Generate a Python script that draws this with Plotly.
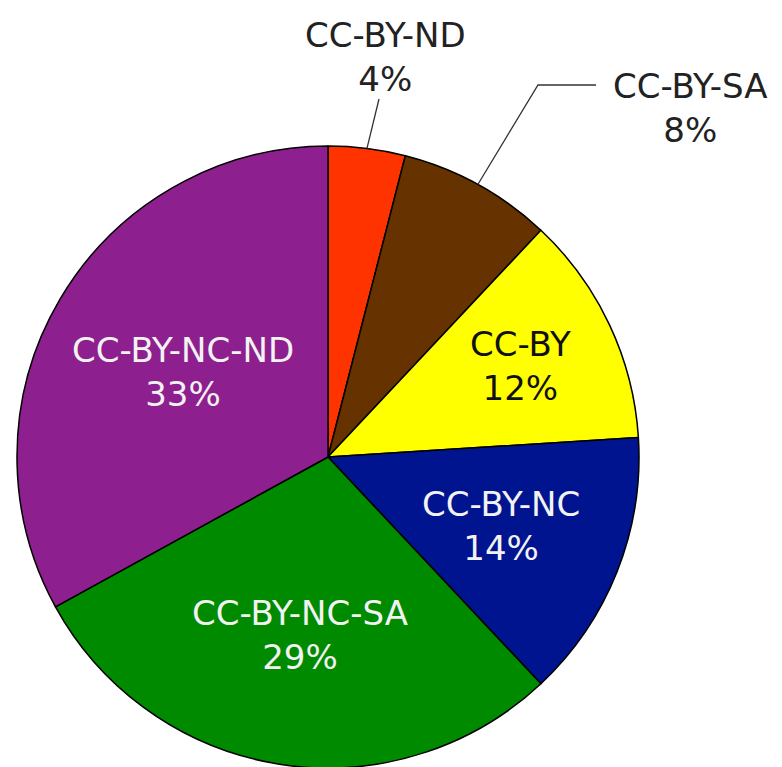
import math
import plotly.graph_objects as go

# ---- data ----
labels = ["CC-BY-ND", "CC-BY-SA", "CC-BY", "CC-BY-NC", "CC-BY-NC-SA", "CC-BY-NC-ND"]
values = [4, 8, 12, 14, 29, 33]

# ---- style ----
colors = ["#ff3300", "#663300", "#ffff00", "#001490", "#008a00", "#8e1f8e"]
text_colors = ["#222222", "#222222", "#111111", "#f2f2f2", "#f2f2f2", "#f2f2f2"]
inside_frac = [None, None, 0.685, 0.60, 0.58, 0.54]
FONT = "DejaVu Sans"
FS = 34

W, H = 782, 767
OFF = 8  # page body margin
CX, CY, R = 328, 457, 311  # pie centre / radius in screen pixels


def px(x):
    return (x - OFF) / W


def py(y):
    return 1 - (y - OFF) / H


fig = go.Figure(go.Pie(
    labels=labels,
    values=values,
    sort=False,
    direction="clockwise",
    rotation=0,
    marker=dict(colors=colors, line=dict(color="#000000", width=1.5)),
    textinfo="none",
    hoverinfo="skip",
    showlegend=False,
    domain=dict(x=[px(CX - R), px(CX + R)], y=[py(CY + R), py(CY - R)]),
))

total = sum(values)
cum = 0
mid_angles = []
for v in values:
    mid_angles.append((cum + v / 2) / total * 2 * math.pi)
    cum += v

annotations = []
shapes = []


def label_ann(x, y, txt, color):
    return dict(x=px(x), y=py(y), xref="paper", yref="paper",
                xanchor="center", yanchor="middle",
                text=txt, showarrow=False, align="center",
                font=dict(family=FONT, size=FS, color=color))


for i, (lab, v) in enumerate(zip(labels, values)):
    pct = round(v / total * 100)
    a = mid_angles[i]
    if inside_frac[i] is not None:
        rr = R * inside_frac[i]
        x = CX + rr * math.sin(a)
        y = CY - rr * math.cos(a)
        annotations.append(label_ann(x, y, f"{lab}<br>{pct}%", text_colors[i]))

# outside labels with leader lines
out_specs = {
    0: dict(text_xy=(385, 57), path=[(379, 99)]),
    1: dict(text_xy=(690, 108), path=[(538, 85), (596, 85)]),
}
for i, spec in out_specs.items():
    a = mid_angles[i]
    sx = CX + R * math.sin(a)
    sy = CY - R * math.cos(a)
    pts = [(sx, sy)] + spec["path"]
    d = "M " + " L ".join(f"{px(x)},{py(y)}" for x, y in pts)
    shapes.append(dict(type="path", path=d, xref="paper", yref="paper",
                       line=dict(color="#333333", width=1.3)))
    pct = round(values[i] / total * 100)
    tx, ty = spec["text_xy"]
    annotations.append(label_ann(tx, ty, f"{labels[i]}<br>{pct}%", text_colors[i]))

fig.update_layout(
    width=W, height=H,
    margin=dict(l=0, r=0, t=0, b=0),
    paper_bgcolor="white",
    plot_bgcolor="white",
    annotations=annotations,
    shapes=shapes,
)

fig.write_html("out.html")
